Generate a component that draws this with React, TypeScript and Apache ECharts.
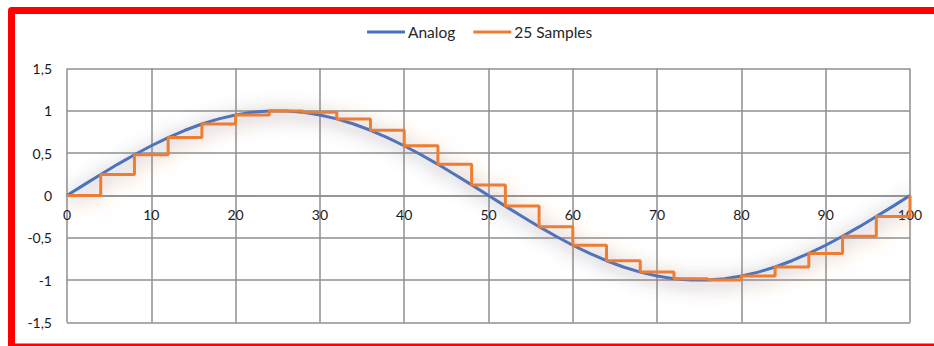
import React, { useEffect, useRef } from "react";
import * as echarts from "echarts";

// Analog signal, one point every 2 units of x (0..100)
const analogX: number[] = [
  0, 2, 4, 6, 8, 10, 12, 14, 16, 18, 20, 22, 24, 26, 28, 30, 32, 34, 36, 38, 40, 42, 44, 46, 48, 50,
  52, 54, 56, 58, 60, 62, 64, 66, 68, 70, 72, 74, 76, 78, 80, 82, 84, 86, 88, 90, 92, 94, 96, 98, 100,
];
const analogY: number[] = [
  0, 0.1253, 0.2487, 0.3681, 0.4818, 0.5878, 0.6845, 0.7705, 0.8443, 0.9048, 0.9511, 0.9823, 0.998,
  0.998, 0.9823, 0.9511, 0.9048, 0.8443, 0.7705, 0.6845, 0.5878, 0.4818, 0.3681, 0.2487, 0.1253, 0,
  -0.1253, -0.2487, -0.3681, -0.4818, -0.5878, -0.6845, -0.7705, -0.8443, -0.9048, -0.9511, -0.9823,
  -0.998, -0.998, -0.9823, -0.9511, -0.9048, -0.8443, -0.7705, -0.6845, -0.5878, -0.4818, -0.3681,
  -0.2487, -0.1253, 0,
];

// 25 held samples (plus the closing point at x = 100)
const sampleX: number[] = [
  0, 4, 8, 12, 16, 20, 24, 28, 32, 36, 40, 44, 48, 52, 56, 60, 64, 68, 72, 76, 80, 84, 88, 92, 96, 100,
];
const sampleY: number[] = [
  0, 0.2487, 0.4818, 0.6845, 0.8443, 0.9511, 0.998, 0.9823, 0.9048, 0.7705, 0.5878, 0.3681, 0.1253,
  -0.1253, -0.3681, -0.5878, -0.7705, -0.9048, -0.9823, -0.998, -0.9511, -0.8443, -0.6845, -0.4818,
  -0.2487, 0,
];

const seriesNames: string[] = ["Analog", "25 Samples"];

const FONT = "Lato, 'Open Sans', sans-serif";

const GRID_TOP = 68.5;
const GRID_BOTTOM = 23.5;
const HEIGHT = 346;

export default function App() {
  const ref = useRef<HTMLDivElement>(null);

  useEffect(() => {
    document.body.style.margin = "0";
    if (!ref.current) return;
    const chart = echarts.init(ref.current, null, { renderer: "svg" });
    const gridColor = "#8f8f8f";
    // x-axis sits on the y = 0 line, halfway up the symmetric plot
    const plotHeight = HEIGHT - GRID_TOP - GRID_BOTTOM;
    chart.setOption({
      animation: false,
      backgroundColor: "#ffffff",
      textStyle: { fontFamily: FONT },
      legend: {
        top: 19,
        left: 362,
        icon: "rect",
        itemWidth: 38,
        itemHeight: 3,
        itemGap: 18,
        textStyle: { fontSize: 15.5, color: "#262626", fontFamily: FONT, padding: [0, 0, 0, -2] },
        data: seriesNames,
      },
      grid: { left: 67, right: 24, top: GRID_TOP, bottom: GRID_BOTTOM, containLabel: false },
      xAxis: {
        type: "value",
        min: 0,
        max: 100,
        interval: 10,
        position: "bottom",
        offset: -plotHeight / 2,
        axisLine: { show: true, onZero: false, lineStyle: { color: gridColor, width: 1.5 } },
        axisTick: { show: false },
        axisLabel: { margin: 12, fontSize: 14, color: "#1a1a1a", fontFamily: FONT },
        splitLine: { show: true, lineStyle: { color: gridColor, width: 1.5 } },
      },
      yAxis: {
        type: "value",
        min: -1.5,
        max: 1.5,
        interval: 0.5,
        axisLine: { show: false, onZero: false },
        axisTick: { show: false },
        axisLabel: {
          margin: 15,
          fontSize: 14,
          color: "#1a1a1a",
          fontFamily: FONT,
          formatter: (v: number) => String(v).replace(".", ","),
        },
        splitLine: { show: true, lineStyle: { color: gridColor, width: 1.5 } },
      },
      graphic: [
        // red frame: top and left edges, plus the bottom edge at the page border
        {
          type: "polyline",
          shape: { points: [[960, 10.5], [11.5, 10.5], [11.5, 360]] },
          style: { fill: "none", stroke: "#ff0000", lineWidth: 7, lineJoin: "round" },
          z: 100,
        },
        {
          type: "line",
          shape: { x1: 8, y1: 345, x2: 960, y2: 345 },
          style: { stroke: "#ff0000", lineWidth: 3 },
          z: 100,
        },
      ],
      series: [
        {
          name: seriesNames[0],
          type: "line",
          symbol: "none",
          data: analogX.map((x, i) => [x, analogY[i]]),
          lineStyle: {
            color: "#4472c4",
            width: 3,
            shadowBlur: 18,
            shadowOffsetY: 3,
            shadowColor: "rgba(68,114,196,0.75)",
          },
          itemStyle: { color: "#4472c4" },
          z: 2,
        },
        {
          name: seriesNames[1],
          type: "line",
          symbol: "none",
          step: "end",
          data: sampleX.map((x, i) => [x, sampleY[i]]),
          lineStyle: {
            color: "#ed7d31",
            width: 3,
            shadowBlur: 18,
            shadowOffsetY: 3,
            shadowColor: "rgba(237,125,49,0.6)",
          },
          itemStyle: { color: "#ed7d31" },
          z: 3,
        },
      ],
    });
    return () => chart.dispose();
  }, []);

  return (
    <div
      ref={ref}
      style={{ position: "fixed", left: 0, top: 0, width: 934, height: HEIGHT }}
    />
  );
}
